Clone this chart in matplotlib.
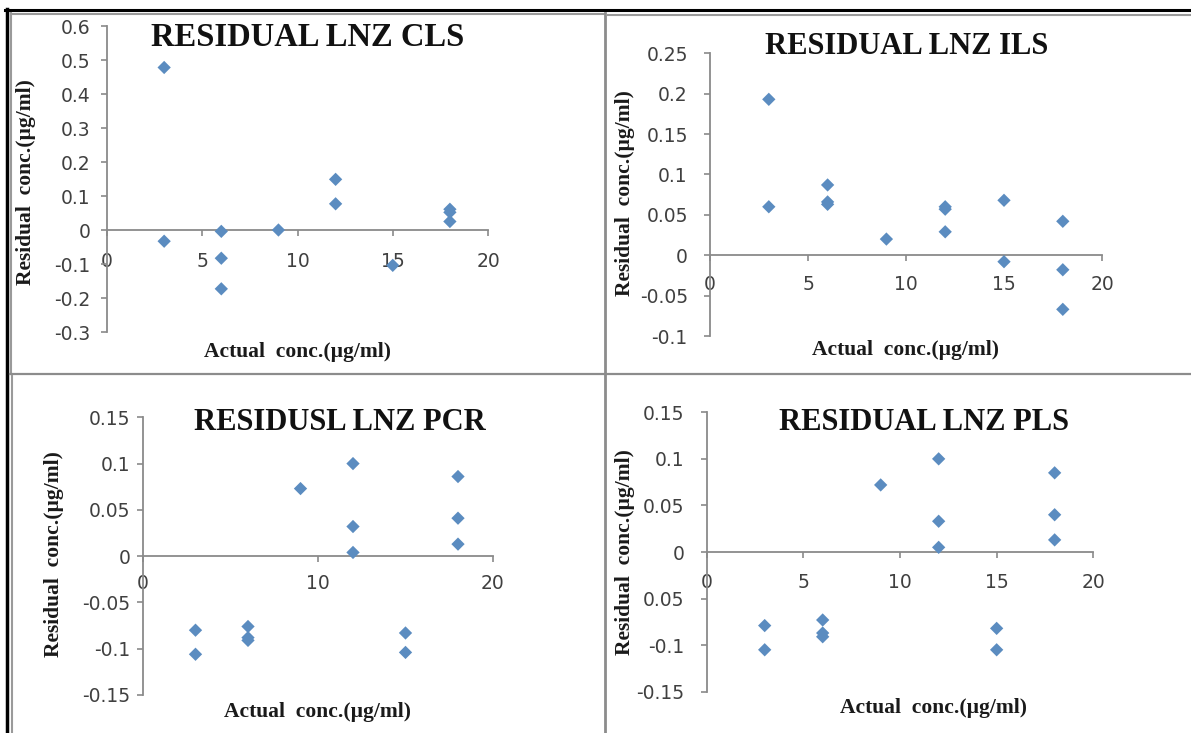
import matplotlib
matplotlib.use("Agg")
import matplotlib.pyplot as plt
from matplotlib.lines import Line2D

W, H = 1191, 733

# ---------------- data ----------------
cls_x = [3, 3, 6, 6, 6, 9, 12, 12, 15, 18, 18, 18]
cls_y = [0.478, -0.033, -0.004, -0.083, -0.173, 0.0, 0.149, 0.077, -0.104, 0.061, 0.052, 0.025]

ils_x = [3, 3, 6, 6, 6, 9, 12, 12, 12, 15, 15, 18, 18, 18]
ils_y = [0.193, 0.060, 0.087, 0.066, 0.063, 0.020, 0.060, 0.057, 0.029, 0.068, -0.008, 0.042, -0.018, -0.067]

pcr_x = [3, 3, 6, 6, 6, 9, 12, 12, 12, 15, 15, 18, 18, 18]
pcr_y = [-0.080, -0.106, -0.076, -0.088, -0.091, 0.073, 0.100, 0.032, 0.004, -0.083, -0.104, 0.086, 0.041, 0.013]

pls_x = [3, 3, 6, 6, 6, 9, 12, 12, 12, 15, 15, 18, 18, 18]
pls_y = [-0.079, -0.105, -0.073, -0.087, -0.091, 0.072, 0.100, 0.033, 0.005, -0.082, -0.105, 0.085, 0.040, 0.013]

titles = ["RESIDUAL LNZ CLS", "RESIDUAL LNZ ILS", "RESIDUSL LNZ PCR", "RESIDUAL LNZ PLS"]
xlabel = "Actual  conc.(\u00b5g/ml)"
ylabel = "Residual  conc.(\u00b5g/ml)"

cls_xticks = [0, 5, 10, 15, 20]
cls_yticks = [0.6, 0.5, 0.4, 0.3, 0.2, 0.1, 0, -0.1, -0.2, -0.3]
cls_ylabels = ["0.6", "0.5", "0.4", "0.3", "0.2", "0.1", "0", "-0.1", "-0.2", "-0.3"]

ils_xticks = [0, 5, 10, 15, 20]
ils_yticks = [0.25, 0.2, 0.15, 0.1, 0.05, 0, -0.05, -0.1]
ils_ylabels = ["0.25", "0.2", "0.15", "0.1", "0.05", "0", "-0.05", "-0.1"]

pcr_xticks = [0, 10, 20]
pcr_yticks = [0.15, 0.1, 0.05, 0, -0.05, -0.1, -0.15]
pcr_ylabels = ["0.15", "0.1", "0.05", "0", "-0.05", "-0.1", "-0.15"]

pls_xticks = [0, 5, 10, 15, 20]
pls_yticks = [0.15, 0.1, 0.05, 0, -0.05, -0.1, -0.15]
pls_ylabels = ["0.15", "0.1", "0.05", "0", "0.05", "-0.1", "-0.15"]

# ---------------- figure ----------------
fig = plt.figure(figsize=(W / 100, H / 100), dpi=100)
fig.patch.set_facecolor("white")

MARK = "#5b8cc0"
SPINE = "#8a8a8a"
TICKC = "#404040"
SERIF = "Liberation Serif"


def px_axes(x0, x1, ytop, ybot):
    return fig.add_axes([x0 / W, 1 - ybot / H, (x1 - x0) / W, (ybot - ytop) / H])


def fig_line(xs, ys, color, lw):
    fig.add_artist(Line2D([x / W for x in xs], [1 - y / H for y in ys],
                          color=color, linewidth=lw, transform=fig.transFigure))


# panel borders
fig_line([5, W], [10, 10], "black", 2.2)
fig_line([7, 7], [9, H], "black", 2.5)
fig_line([11, 604], [13.5, 13.5], "#9a9a9a", 1.5)
fig_line([10.5, 10.5], [13, 374], "#9a9a9a", 1.5)
fig_line([605, 605], [13, H], "#8c8c8c", 2.0)
fig_line([607, W], [15, 15], "#9a9a9a", 1.5)
fig_line([10, W], [374.5, 374.5], "#8c8c8c", 1.6)
fig_line([12, 12], [376, H], "#9a9a9a", 1.5)

panels = [
    dict(box=(107, 488, 26, 332), ylim=(-0.3, 0.6), x=cls_x, y=cls_y, xt=cls_xticks, yt=cls_yticks, yl=cls_ylabels,
         title=(titles[0], 308, 38, 23.5), xlab=(298, 352), ylab=(26, 182), xpad=12, ypad=8),
    dict(box=(710, 1102, 53.3, 336), ylim=(-0.1, 0.25), x=ils_x, y=ils_y, xt=ils_xticks, yt=ils_yticks, yl=ils_ylabels,
         title=(titles[1], 907, 47, 22), xlab=(905, 350), ylab=(625, 193), xpad=10, ypad=12),
    dict(box=(143, 493, 417.3, 695), ylim=(-0.15, 0.15), x=pcr_x, y=pcr_y, xt=pcr_xticks, yt=pcr_yticks, yl=pcr_ylabels,
         title=(titles[2], 340, 422, 22), xlab=(318, 712), ylab=(54, 554), xpad=9, ypad=5),
    dict(box=(706.7, 1093.3, 412.3, 691.7), ylim=(-0.15, 0.15), x=pls_x, y=pls_y, xt=pls_xticks, yt=pls_yticks, yl=pls_ylabels,
         title=(titles[3], 924, 423, 22), xlab=(933, 708), ylab=(625, 552), xpad=11, ypad=12),
]

for p in panels:
    x0, x1, yt_, yb_ = p["box"]
    ax = px_axes(x0, x1, yt_, yb_)
    ax.set_facecolor("none")
    ax.set_xlim(0, 20)
    ax.set_ylim(*p["ylim"])
    ax.scatter(p["x"], p["y"], marker="D", s=46, color=MARK, edgecolors="none", zorder=3, clip_on=False)
    for s in ("top", "right"):
        ax.spines[s].set_visible(False)
    ax.spines["left"].set_color(SPINE)
    ax.spines["left"].set_linewidth(1.3)
    ax.spines["bottom"].set_position(("data", 0))
    ax.spines["bottom"].set_color(SPINE)
    ax.spines["bottom"].set_linewidth(1.3)
    ax.set_xticks(p["xt"])
    ax.set_xticklabels([str(v) for v in p["xt"]])
    ax.set_yticks(p["yt"])
    ax.set_yticklabels(p["yl"])
    ax.tick_params(axis="both", colors=SPINE, labelcolor=TICKC, labelsize=13.5, length=4, width=1.2)
    ax.tick_params(axis="x", pad=p["xpad"])
    ax.tick_params(axis="y", pad=p["ypad"])
    for lab in ax.get_xticklabels() + ax.get_yticklabels():
        lab.set_fontfamily("DejaVu Sans")

    t, cx, cy, sz = p["title"]
    fig.text(cx / W, 1 - cy / H, t, ha="center", va="center", fontsize=sz,
             fontweight="bold", fontfamily=SERIF, color="#111111")
    fig.text(p["xlab"][0] / W, 1 - p["xlab"][1] / H, xlabel, ha="center", va="center",
             fontsize=15.5, fontweight="bold", fontfamily=SERIF, color="#1a1a1a")
    fig.text(p["ylab"][0] / W, 1 - p["ylab"][1] / H, ylabel, ha="center", va="center", rotation=90,
             fontsize=15.5, fontweight="bold", fontfamily=SERIF, color="#1a1a1a")

fig.savefig("out.png", dpi=100, facecolor="white")
